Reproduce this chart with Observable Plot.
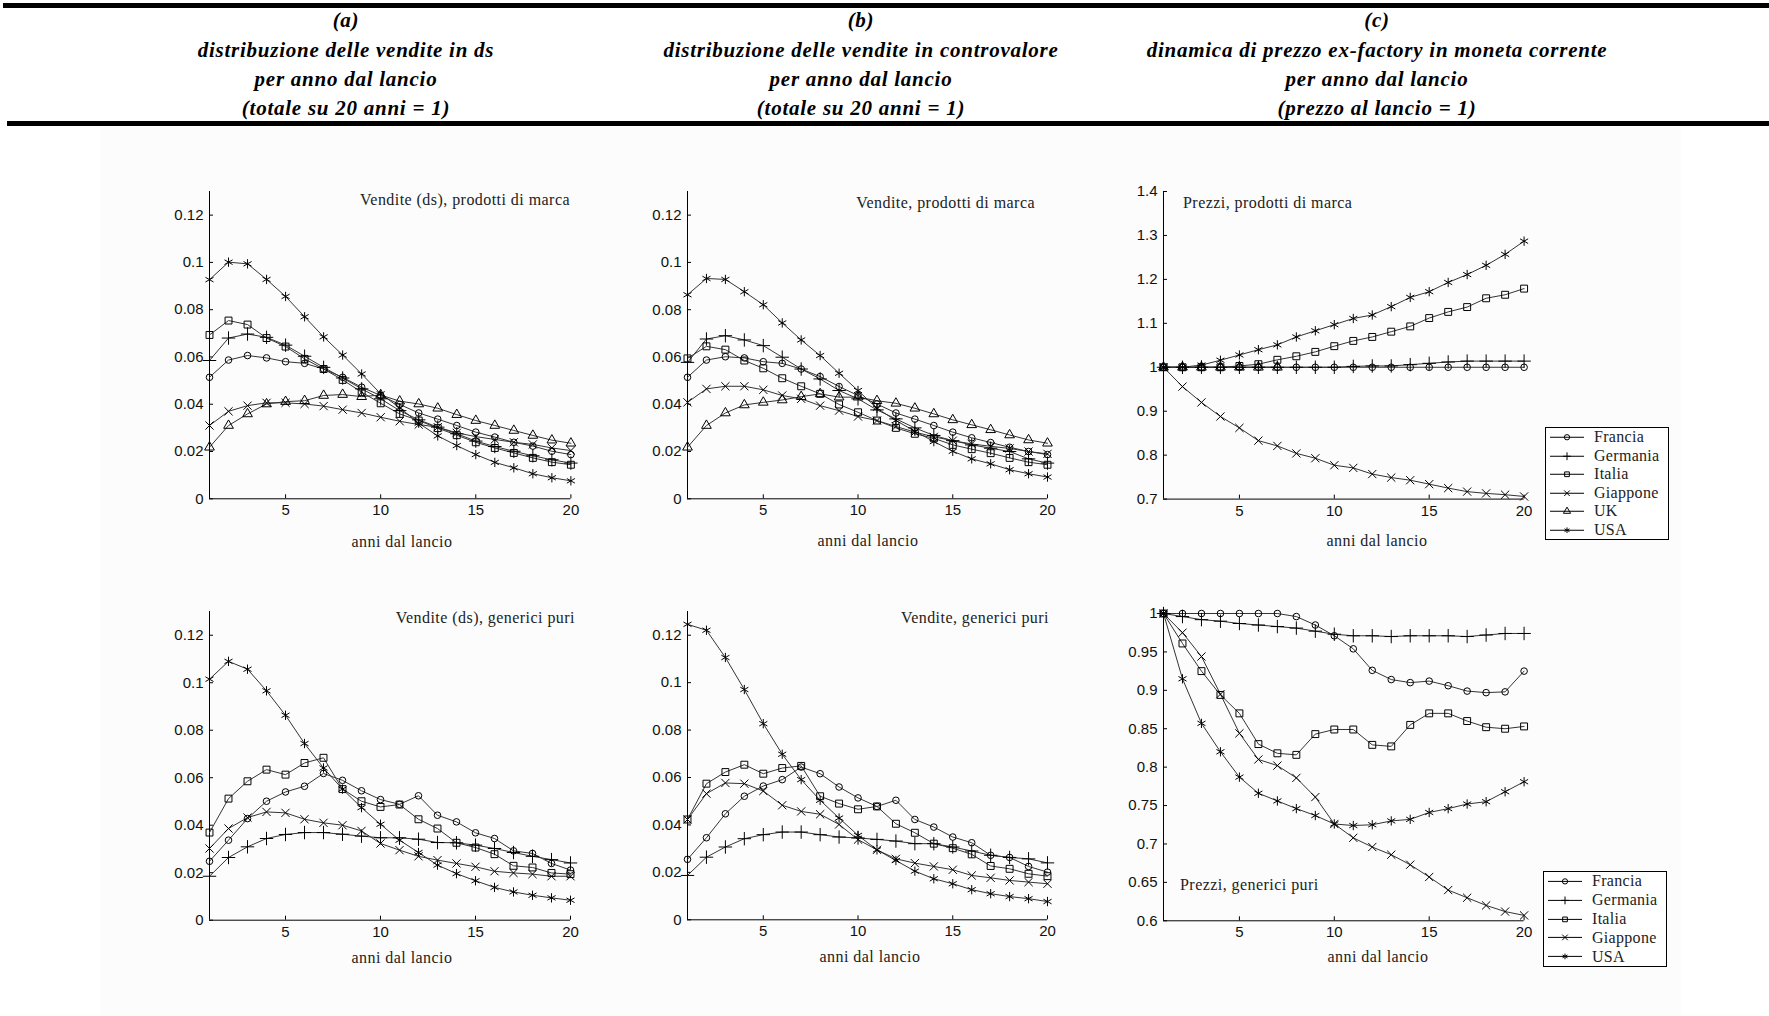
<!DOCTYPE html>
<html><head><meta charset="utf-8">
<script src="https://cdn.jsdelivr.net/npm/d3@7"></script>
<script src="https://cdn.jsdelivr.net/npm/@observablehq/plot@0.6"></script>
<style>
html,body{margin:0;padding:0;background:#fff;}
#page{position:relative;width:1769px;height:1016px;overflow:hidden;background:#fff;}
.abs{position:absolute;white-space:nowrap;line-height:1;}
.hdr{font-family:"Liberation Serif","Times New Roman",serif;font-style:italic;font-weight:bold;font-size:21px;letter-spacing:0.75px;color:#000;transform:translate(-50%,-50%);}
.ttl{font-family:"Liberation Serif","Times New Roman",serif;font-size:16px;letter-spacing:0.45px;color:#222;transform:translateY(-50%);}
.xl{font-family:"Liberation Serif","Times New Roman",serif;font-size:16px;letter-spacing:0.45px;color:#222;transform:translate(-50%,-50%);}
.leg{position:absolute;border:1px solid #000;background:#fff;box-sizing:border-box;}
.legrow{position:absolute;left:0;width:100%;}
.legrow svg{position:absolute;left:2px;top:0;}
.legrow span{position:absolute;left:48px;font-family:"Liberation Serif","Times New Roman",serif;font-size:16px;letter-spacing:0.3px;color:#222;transform:translateY(-50%);line-height:1;}
</style></head>
<body><div id="page"></div>
<script>
// ---------- data ----------
const anni = [1,2,3,4,5,6,7,8,9,10,11,12,13,14,15,16,17,18,19,20];
const xTicks = [5,10,15,20];
const yTicksVendite = [0,0.02,0.04,0.06,0.08,0.1,0.12];
const yTicksPrezziMarca = [0.7,0.8,0.9,1,1.1,1.2,1.3,1.4];
const yTicksPrezziGen = [0.6,0.65,0.7,0.75,0.8,0.85,0.9,0.95,1];

const intestazioneA = ["(a)","distribuzione delle vendite in ds","per anno dal lancio","(totale su 20 anni = 1)"];
const intestazioneB = ["(b)","distribuzione delle vendite in controvalore","per anno dal lancio","(totale su 20 anni = 1)"];
const intestazioneC = ["(c)","dinamica di prezzo ex-factory in moneta corrente","per anno dal lancio","(prezzo al lancio = 1)"];
const titoliPannelli = ["Vendite (ds), prodotti di marca","Vendite, prodotti di marca","Prezzi, prodotti di marca",
                        "Vendite (ds), generici puri","Vendite, generici puri","Prezzi, generici puri"];
const etichettaX = "anni dal lancio";
const paesiMarca = ["Francia","Germania","Italia","Giappone","UK","USA"];
const paesiGenerici = ["Francia","Germania","Italia","Giappone","USA"];

// (a) vendite in ds, prodotti di marca
const vdsMarcaFrancia  = [0.0514,0.0587,0.0606,0.0596,0.0580,0.0573,0.0549,0.0514,0.0472,0.0437,0.0399,0.0363,0.0337,0.0310,0.0282,0.0261,0.0239,0.0223,0.0201,0.0187];
const vdsMarcaGermania = [0.0585,0.0680,0.0697,0.0683,0.0650,0.0603,0.0556,0.0511,0.0465,0.0423,0.0373,0.0334,0.0303,0.0275,0.0244,0.0221,0.0201,0.0182,0.0165,0.0151];
const vdsMarcaItalia   = [0.0693,0.0754,0.0737,0.0680,0.0644,0.0592,0.0549,0.0503,0.0451,0.0404,0.0359,0.0331,0.0299,0.0269,0.0239,0.0215,0.0194,0.0173,0.0155,0.0144];
const vdsMarcaGiappone = [0.0310,0.0370,0.0394,0.0406,0.0406,0.0401,0.0392,0.0377,0.0363,0.0345,0.0328,0.0314,0.0303,0.0279,0.0263,0.0251,0.0239,0.0230,0.0215,0.0204];
const vdsMarcaUK       = [0.0218,0.0310,0.0359,0.0401,0.0411,0.0415,0.0437,0.0441,0.0432,0.0439,0.0413,0.0401,0.0383,0.0356,0.0331,0.0310,0.0289,0.0268,0.0248,0.0235];
const vdsMarcaUSA      = [0.0927,0.1001,0.0994,0.0928,0.0856,0.0770,0.0685,0.0608,0.0528,0.0444,0.0385,0.0320,0.0266,0.0225,0.0187,0.0154,0.0131,0.0106,0.0089,0.0076];

// (b) vendite in controvalore, prodotti di marca
const vMarcaFrancia  = [0.0514,0.0587,0.0601,0.0596,0.0580,0.0573,0.0549,0.0517,0.0475,0.0437,0.0401,0.0363,0.0337,0.0310,0.0282,0.0258,0.0238,0.0218,0.0200,0.0187];
const vMarcaGermania = [0.0577,0.0676,0.0690,0.0672,0.0648,0.0599,0.0549,0.0507,0.0458,0.0423,0.0376,0.0338,0.0300,0.0268,0.0246,0.0228,0.0214,0.0200,0.0169,0.0151];
const vMarcaItalia   = [0.0594,0.0645,0.0631,0.0585,0.0552,0.0510,0.0476,0.0444,0.0399,0.0366,0.0331,0.0300,0.0275,0.0256,0.0228,0.0210,0.0193,0.0173,0.0155,0.0144];
const vMarcaGiappone = [0.0408,0.0465,0.0476,0.0476,0.0461,0.0437,0.0423,0.0394,0.0373,0.0348,0.0331,0.0306,0.0282,0.0262,0.0246,0.0232,0.0222,0.0213,0.0200,0.0190];
const vMarcaUK       = [0.0218,0.0310,0.0363,0.0397,0.0408,0.0418,0.0432,0.0444,0.0430,0.0430,0.0415,0.0404,0.0383,0.0359,0.0334,0.0313,0.0292,0.0270,0.0249,0.0235];
const vMarcaUSA      = [0.0863,0.0932,0.0928,0.0876,0.0821,0.0744,0.0672,0.0606,0.0531,0.0458,0.0383,0.0331,0.0286,0.0242,0.0201,0.0169,0.0148,0.0123,0.0106,0.0092];

// (c) prezzi, prodotti di marca
const pMarcaFrancia  = [1,1,1,1,1,1,1,1,1,1,1,1,1,1,1,1,1,1,1,1];
const pMarcaGermania = [1,1,1,1,1,1,1,1,1,1,1.002,1.003,1.003,1.006,1.009,1.012,1.014,1.014,1.014,1.014];
const pMarcaItalia   = [1,1,1,1,1.003,1.007,1.017,1.025,1.035,1.048,1.060,1.069,1.081,1.093,1.112,1.126,1.137,1.157,1.165,1.179];
const pMarcaGiappone = [1,0.956,0.920,0.888,0.862,0.833,0.821,0.804,0.793,0.777,0.771,0.757,0.749,0.743,0.734,0.725,0.717,0.713,0.710,0.706];
const pMarcaUK       = [1,1,1,1,1,1,1];
const pMarcaUSA      = [1,1,1.005,1.016,1.028,1.040,1.051,1.069,1.083,1.097,1.111,1.119,1.138,1.159,1.172,1.193,1.211,1.232,1.257,1.287];

// (a) vendite in ds, generici puri
const vdsGenFrancia  = [0.0248,0.0337,0.0428,0.0501,0.0540,0.0564,0.0618,0.0589,0.0545,0.0508,0.0488,0.0524,0.0442,0.0414,0.0368,0.0344,0.0292,0.0281,0.0239,0.0211];
const vdsGenGermania = [0.0185,0.0264,0.0309,0.0344,0.0361,0.0369,0.0369,0.0362,0.0354,0.0347,0.0347,0.0341,0.0327,0.0326,0.0316,0.0302,0.0285,0.0269,0.0255,0.0241];
const vdsGenItalia   = [0.0369,0.0512,0.0585,0.0634,0.0613,0.0662,0.0684,0.0552,0.0501,0.0477,0.0487,0.0425,0.0386,0.0326,0.0306,0.0278,0.0229,0.0222,0.0199,0.0194];
const vdsGenGiappone = [0.0302,0.0386,0.0432,0.0456,0.0452,0.0425,0.0410,0.0400,0.0376,0.0323,0.0295,0.0269,0.0253,0.0239,0.0225,0.0206,0.0199,0.0194,0.0185,0.0185];
const vdsGenUSA      = [0.1015,0.1090,0.1057,0.0966,0.0863,0.0744,0.0641,0.0552,0.0474,0.0404,0.0337,0.0285,0.0232,0.0196,0.0166,0.0138,0.0119,0.0105,0.0094,0.0084];

// (b) vendite in controvalore, generici puri
const vGenFrancia  = [0.0255,0.0346,0.0447,0.0521,0.0564,0.0591,0.0644,0.0616,0.0560,0.0514,0.0478,0.0504,0.0423,0.0391,0.0349,0.0325,0.0272,0.0263,0.0225,0.0201];
const vGenGermania = [0.0187,0.0264,0.0307,0.0342,0.0359,0.0370,0.0370,0.0359,0.0349,0.0345,0.0339,0.0332,0.0321,0.0321,0.0307,0.0290,0.0272,0.0263,0.0257,0.0240];
const vGenItalia   = [0.0423,0.0574,0.0623,0.0654,0.0616,0.0640,0.0649,0.0521,0.0490,0.0466,0.0478,0.0405,0.0367,0.0321,0.0302,0.0276,0.0227,0.0215,0.0194,0.0184];
const vGenGiappone = [0.0423,0.0532,0.0577,0.0574,0.0543,0.0483,0.0457,0.0445,0.0402,0.0338,0.0295,0.0257,0.0239,0.0225,0.0211,0.0187,0.0177,0.0166,0.0159,0.0152];
const vGenUSA      = [0.1246,0.1221,0.1106,0.0971,0.0827,0.0698,0.0591,0.0504,0.0429,0.0356,0.0295,0.0250,0.0205,0.0173,0.0152,0.0127,0.0110,0.0098,0.0089,0.0077];

// (c) prezzi, generici puri
const pGenFrancia  = [1,1,1,1,1,1,1,0.996,0.985,0.971,0.954,0.926,0.914,0.910,0.912,0.906,0.899,0.897,0.898,0.925];
const pGenGermania = [1,0.996,0.992,0.990,0.987,0.985,0.983,0.981,0.977,0.973,0.971,0.971,0.970,0.971,0.971,0.971,0.970,0.972,0.974,0.974];
const pGenItalia   = [1,0.961,0.925,0.894,0.870,0.830,0.818,0.816,0.843,0.849,0.849,0.829,0.827,0.855,0.870,0.870,0.860,0.852,0.850,0.853];
const pGenGiappone = [1,0.975,0.944,0.895,0.844,0.810,0.802,0.786,0.761,0.726,0.708,0.696,0.686,0.673,0.657,0.640,0.630,0.620,0.612,0.607];
const pGenUSA      = [1,0.915,0.857,0.820,0.787,0.766,0.756,0.746,0.737,0.726,0.724,0.725,0.730,0.732,0.741,0.746,0.752,0.755,0.768,0.781];

// ---------- styling (not data) ----------
const simboli = {Francia:"circle",Germania:"plus",Italia:"square",Giappone:"times",UK:"triangle",USA:"asterisk"};
const raggi   = {Francia:3.3,Germania:4.4,Italia:3.9,Giappone:3.8,UK:3.6,USA:4.4};
const d3simboli = {Francia:d3.symbolCircle,Germania:d3.symbolPlus,Italia:d3.symbolSquare,Giappone:d3.symbolTimes,UK:d3.symbolTriangle,USA:d3.symbolAsterisk};

const page = document.getElementById("page");
function addDiv(cls, text, left, top, extra) {
  const d = document.createElement("div");
  d.className = "abs " + cls;
  d.textContent = text;
  d.style.left = left + "px"; d.style.top = top + "px";
  if (extra) Object.assign(d.style, extra);
  page.appendChild(d);
  return d;
}
function addBox(left, top, w, h, bg) {
  const d = document.createElement("div");
  d.style.cssText = `position:absolute;left:${left}px;top:${top}px;width:${w}px;height:${h}px;background:${bg};`;
  page.appendChild(d);
}

// background + header rules
addBox(100, 127, 1581, 889, "#fcfcfc");
addBox(3, 3, 1766, 5, "#000");
addBox(7, 121, 1762, 5, "#000");
const hdrYs = [20, 50, 79, 108];
[[intestazioneA, 346],[intestazioneB, 861],[intestazioneC, 1377]].forEach(([lines, cx]) => {
  lines.forEach((t, i) => addDiv("hdr", t, cx, hdrYs[i]));
});

function righe(nomi, serie) {
  return nomi.flatMap((p, k) => serie[k].map((v, i) => ({paese: p, anno: anni[i], valore: v})));
}

function pannello({x0, x1, y0, y1, dom, yt, nomi, serie}) {
  const mL = 60, mR = 12, mT = 12, mB = 34;
  const W = x1 - x0, H = y1 - y0;
  const dati = righe(nomi, serie);
  const marks = [
    Plot.ruleX([1], {stroke: "#000", strokeWidth: 1}),
    Plot.ruleY([dom[0]], {stroke: "#000", strokeWidth: 1}),
    Plot.tickY(yt, {y: d => d, stroke: "#000", insetRight: W - 4}),
    Plot.tickX(xTicks, {x: d => d, stroke: "#000", insetTop: H - 4}),
    Plot.axisY(yt, {tickSize: 0, tickPadding: 6, tickFormat: d => String(d), label: null, fill: "#111"}),
    Plot.axisX(xTicks, {tickSize: 0, tickPadding: 6, label: null, fill: "#111"}),
    Plot.line(dati, {x: "anno", y: "valore", z: "paese", stroke: "#333", strokeWidth: 1})
  ];
  nomi.forEach(p => {
    marks.push(Plot.dot(dati.filter(d => d.paese === p), {x: "anno", y: "valore", symbol: simboli[p], r: raggi[p], stroke: "#000", fill: "none", strokeWidth: 1}));
  });
  const svg = Plot.plot({
    width: W + mL + mR, height: H + mT + mB,
    marginLeft: mL, marginRight: mR, marginTop: mT, marginBottom: mB,
    x: {type: "linear", domain: [1, 20]},
    y: {type: "linear", domain: dom},
    style: {fontSize: "15px", fontFamily: "'Liberation Sans', Arial, sans-serif", background: "transparent", overflow: "visible", color: "#111"},
    marks
  });
  svg.style.position = "absolute";
  svg.style.left = (x0 - mL) + "px";
  svg.style.top = (y0 - mT) + "px";
  page.appendChild(svg);
}

function legenda(left, top, w, h, nomi) {
  const box = document.createElement("div");
  box.className = "leg";
  box.style.left = left + "px"; box.style.top = top + "px";
  box.style.width = w + "px"; box.style.height = h + "px";
  const rh = (h - 2) / nomi.length;
  nomi.forEach((p, i) => {
    const row = document.createElement("div");
    row.className = "legrow";
    row.style.top = (i * rh) + "px"; row.style.height = rh + "px";
    const svg = d3.create("svg").attr("width", 40).attr("height", rh);
    svg.append("line").attr("x1", 2).attr("x2", 36).attr("y1", rh / 2).attr("y2", rh / 2).attr("stroke", "#000");
    svg.append("path").attr("d", d3.symbol(d3simboli[p], 22)()).attr("transform", `translate(19,${rh / 2})`)
      .attr("fill", "none").attr("stroke", "#000");
    row.appendChild(svg.node());
    const s = document.createElement("span");
    s.textContent = p; s.style.top = (rh / 2) + "px";
    row.appendChild(s);
    box.appendChild(row);
  });
  page.appendChild(box);
}

// panels
pannello({x0: 209.3, x1: 570.7, y0: 190.7, y1: 498, dom: [0, 0.13], yt: yTicksVendite, nomi: paesiMarca,
  serie: [vdsMarcaFrancia, vdsMarcaGermania, vdsMarcaItalia, vdsMarcaGiappone, vdsMarcaUK, vdsMarcaUSA]});
pannello({x0: 686.7, x1: 1046.7, y0: 190.7, y1: 498, dom: [0, 0.13], yt: yTicksVendite, nomi: paesiMarca,
  serie: [vMarcaFrancia, vMarcaGermania, vMarcaItalia, vMarcaGiappone, vMarcaUK, vMarcaUSA]});
pannello({x0: 1162.7, x1: 1523.3, y0: 190.7, y1: 498.3, dom: [0.7, 1.4], yt: yTicksPrezziMarca, nomi: paesiMarca,
  serie: [pMarcaFrancia, pMarcaGermania, pMarcaItalia, pMarcaGiappone, pMarcaUK, pMarcaUSA]});
pannello({x0: 209.3, x1: 570.3, y0: 611.3, y1: 920, dom: [0, 0.13], yt: yTicksVendite, nomi: paesiGenerici,
  serie: [vdsGenFrancia, vdsGenGermania, vdsGenItalia, vdsGenGiappone, vdsGenUSA]});
pannello({x0: 686.7, x1: 1046.7, y0: 611, y1: 919.3, dom: [0, 0.13], yt: yTicksVendite, nomi: paesiGenerici,
  serie: [vGenFrancia, vGenGermania, vGenItalia, vGenGiappone, vGenUSA]});
pannello({x0: 1162.7, x1: 1523.3, y0: 612.7, y1: 920, dom: [0.6, 1], yt: yTicksPrezziGen, nomi: paesiGenerici,
  serie: [pGenFrancia, pGenGermania, pGenItalia, pGenGiappone, pGenUSA]});

// panel titles
addDiv("ttl", titoliPannelli[0], 0, 200, {left: "auto", right: (1769 - 570) + "px"});
addDiv("ttl", titoliPannelli[1], 0, 203, {left: "auto", right: (1769 - 1035) + "px"});
addDiv("ttl", titoliPannelli[2], 1183, 203);
addDiv("ttl", titoliPannelli[3], 0, 618, {left: "auto", right: (1769 - 575) + "px"});
addDiv("ttl", titoliPannelli[4], 0, 618, {left: "auto", right: (1769 - 1049) + "px"});
addDiv("ttl", titoliPannelli[5], 1180, 885);

// x labels
[[402, 542], [868, 541], [1377, 541], [402, 958], [870, 957], [1378, 957]].forEach(([x, y]) => addDiv("xl", etichettaX, x, y));

// legends
legenda(1545, 427, 124, 113, paesiMarca);
legenda(1543, 871, 124, 96, paesiGenerici);
</script>
</body></html>
